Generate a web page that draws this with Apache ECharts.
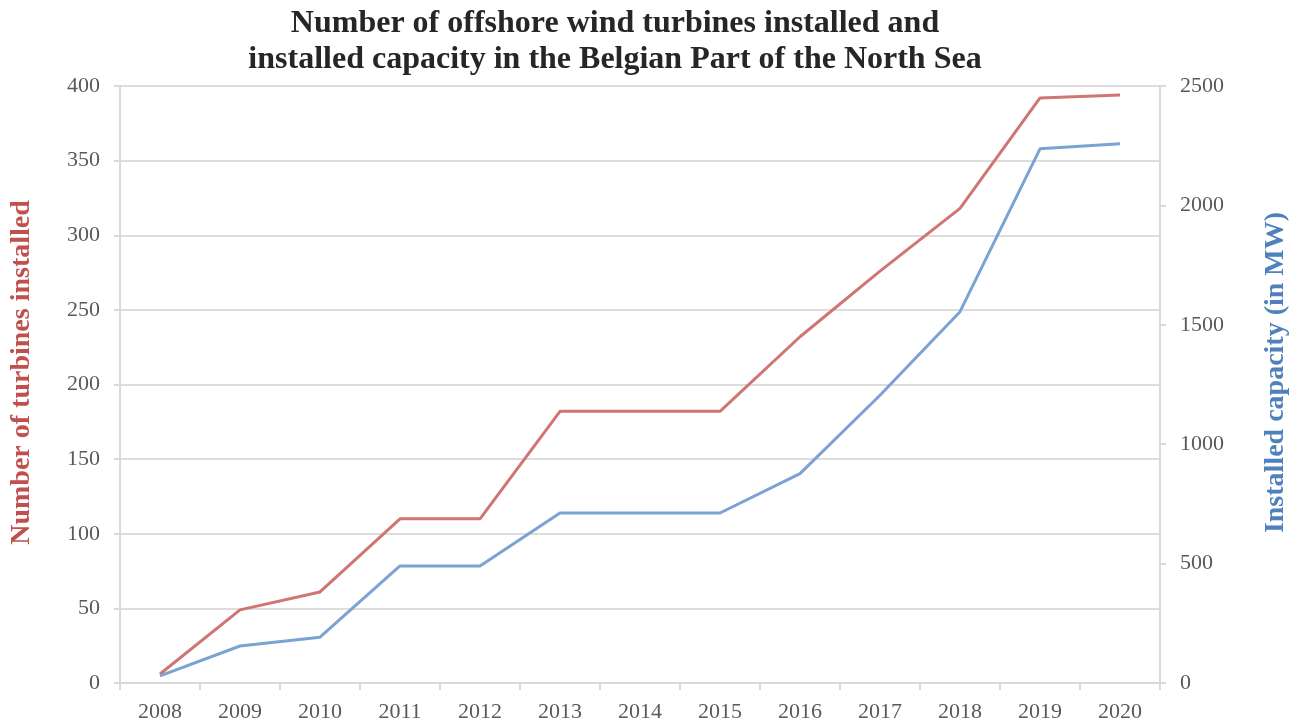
<!DOCTYPE html>
<html>
<head>
<meta charset="utf-8">
<script src="https://cdn.jsdelivr.net/npm/echarts@6/dist/echarts.min.js"></script>
<style>
html,body{margin:0;padding:0;background:#fff;}
#chart{width:1298px;height:726px;}
</style>
</head>
<body>
<div id="chart"></div>
<script>
const years = ['2008','2009','2010','2011','2012','2013','2014','2015','2016','2017','2018','2019','2020'];
const turbines = [6, 49, 61, 110, 110, 182, 182, 182, 232, 276, 318, 392, 394];
const capacity = [30, 155, 192, 490, 490, 712, 712, 712, 877, 1205, 1555, 2237, 2258];
const titleLines = ['Number of offshore wind turbines installed and', 'installed capacity in the Belgian Part of the North Sea'];
const leftName = 'Number of turbines installed';
const rightName = 'Installed capacity (in MW)';

const serif = '"Liberation Serif","DejaVu Serif",serif';
const chart = echarts.init(document.getElementById('chart'));
chart.setOption({
  animation: false,
  backgroundColor: '#ffffff',
  title: {
    text: titleLines.join('\n'),
    left: 610, top: 1, textAlign: 'center',
    textStyle: {fontFamily: serif, fontWeight: 'bold', fontSize: 32, lineHeight: 36, color: '#262626'}
  },
  grid: {left: 120, right: 138, top: 86, bottom: 43, containLabel: false},
  xAxis: {
    type: 'category', data: years, boundaryGap: true,
    axisLine: {lineStyle: {color: '#d9d9d9', width: 2}},
    axisTick: {show: true, length: 7, lineStyle: {color: '#d9d9d9', width: 2}},
    axisLabel: {fontFamily: serif, fontSize: 22, color: '#595959', margin: 18}
  },
  yAxis: [
    {
      type: 'value', min: 0, max: 400, interval: 50, position: 'left',
      name: leftName, nameLocation: 'middle', nameRotate: 90, nameGap: 84,
      nameTextStyle: {fontFamily: serif, fontWeight: 'bold', fontSize: 28, color: '#c0504d', padding: [0, 0, 0, 24]},
      axisLine: {show: true, lineStyle: {color: '#d9d9d9', width: 2}},
      axisTick: {show: true, length: 6, lineStyle: {color: '#d9d9d9', width: 2}},
      axisLabel: {fontFamily: serif, fontSize: 22, color: '#595959', margin: 20},
      splitLine: {show: true, lineStyle: {color: '#dddddd', width: 2}}
    },
    {
      type: 'value', min: 0, max: 2500, interval: 500, position: 'right',
      name: rightName, nameLocation: 'middle', nameRotate: 90, nameGap: 102,
      nameTextStyle: {fontFamily: serif, fontWeight: 'bold', fontSize: 28, color: '#4f81bd', padding: [0, 0, 0, 24]},
      axisLine: {show: true, lineStyle: {color: '#d9d9d9', width: 2}},
      axisTick: {show: true, length: 6, lineStyle: {color: '#d9d9d9', width: 2}},
      axisLabel: {fontFamily: serif, fontSize: 22, color: '#595959', margin: 20,
                  formatter: function (v) { return String(v); }},
      splitLine: {show: false}
    }
  ],
  series: [
    {
      type: 'line', name: 'Turbines', data: turbines, yAxisIndex: 0,
      symbol: 'none', lineStyle: {color: '#cf7572', width: 3},
      itemStyle: {color: '#cf7572'}
    },
    {
      type: 'line', name: 'Capacity', data: capacity, yAxisIndex: 1,
      symbol: 'none', lineStyle: {color: '#7aa3d3', width: 3},
      itemStyle: {color: '#7aa3d3'}
    }
  ]
});
</script>
</body>
</html>
